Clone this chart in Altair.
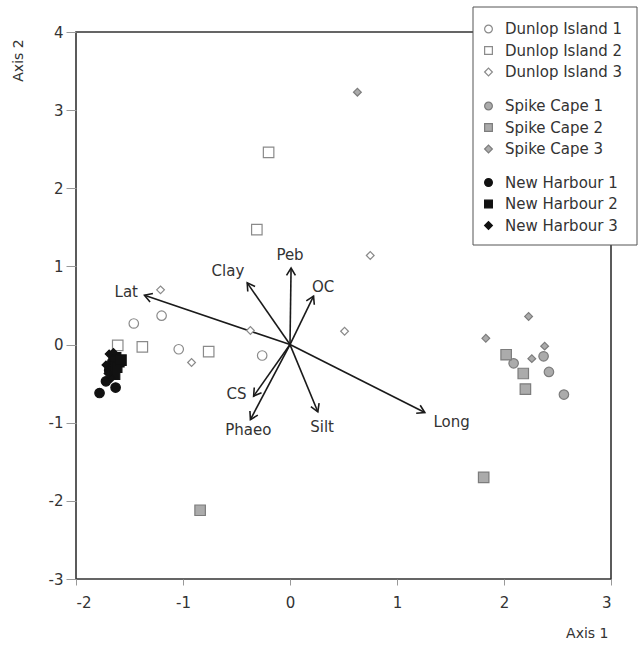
import math
import altair as alt
import pandas as pd

# ---- sample scores (Axis 1, Axis 2) ----
di1_x = [-1.46, -1.20, -1.04, -0.26]
di1_y = [0.27, 0.37, -0.06, -0.14]
di2_x = [-0.20, -0.31, -1.61, -1.38, -0.76]
di2_y = [2.46, 1.47, -0.01, -0.03, -0.09]
di3_x = [-1.21, -0.37, -0.92, 0.51, 0.75]
di3_y = [0.70, 0.18, -0.23, 0.17, 1.14]

sc1_x = [2.09, 2.37, 2.42, 2.56]
sc1_y = [-0.24, -0.15, -0.35, -0.64]
sc2_x = [2.02, 2.18, 2.20, 1.81, -0.84]
sc2_y = [-0.13, -0.37, -0.57, -1.70, -2.12]
sc3_x = [2.23, 1.83, 2.38, 2.26, 0.63]
sc3_y = [0.36, 0.08, -0.02, -0.18, 3.23]

nh1_x = [-1.78, -1.63, -1.72, -1.69, -1.66]
nh1_y = [-0.62, -0.55, -0.47, -0.33, -0.22]
nh2_x = [-1.60, -1.63, -1.64, -1.62, -1.58]
nh2_y = [-0.22, -0.17, -0.38, -0.29, -0.20]
nh3_x = [-1.69, -1.72, -1.67, -1.65, -1.70]
nh3_y = [-0.12, -0.26, -0.43, -0.10, -0.37]

# ---- environmental vectors ----
vec_names = ["Lat", "Clay", "Peb", "OC", "CS", "Phaeo", "Silt", "Long"]
vec_x = [-1.36, -0.40, 0.01, 0.22, -0.34, -0.37, 0.26, 1.26]
vec_y = [0.63, 0.79, 0.98, 0.62, -0.66, -0.96, -0.86, -0.87]
lab_x = [-1.53, -0.58, 0.00, 0.31, -0.50, -0.39, 0.30, 1.51]
lab_y = [0.67, 0.94, 1.14, 0.74, -0.63, -1.09, -1.05, -0.99]

x_ticks = [-2, -1, 0, 1, 2, 3]
y_ticks = [-3, -2, -1, 0, 1, 2, 3, 4]

# ---- styles ----
W, H = 535, 547
FONT = "DejaVu Sans"
FS = 15
TXT = "#333333"
HYPHEN = "datum.value < 0 ? '-' + abs(datum.value) : '' + datum.value"
SHAPES = ["circle", "square", "diamond"]
SIZES = [90, 110, 60]

xs = alt.Scale(domain=[-2, 3], nice=False, zero=False)
ys = alt.Scale(domain=[-3, 4], nice=False, zero=False)

x_axis = alt.Axis(values=x_ticks, tickSize=6, tickColor="#999", labelFontSize=FS,
                  labelColor=TXT, labelPadding=10, domain=False, grid=False,
                  labelExpr=HYPHEN, labelFont=FONT,
                  title="Axis 1", titleAnchor="end", titleAlign="right",
                  titleX=532, titleY=54, titleBaseline="middle", titleFont=FONT,
                  titleFontSize=14, titleFontWeight="normal", titleColor=TXT)
y_axis = alt.Axis(values=y_ticks, tickSize=10, tickColor="#999", labelFontSize=FS,
                  labelColor=TXT, labelPadding=3, domain=False, grid=False,
                  labelExpr=HYPHEN, labelFont=FONT,
                  title="Axis 2", titleAngle=270, titleX=-58, titleY=28,
                  titleAlign="center", titleBaseline="middle", titleFont=FONT,
                  titleFontSize=14, titleFontWeight="normal", titleColor=TXT)


def group_df(names, xss, yss):
    rows = []
    for n, xv, yv, sz in zip(names, xss, yss, SIZES):
        for a, b in zip(xv, yv):
            rows.append({"sample": n, "x": a, "y": b, "sz": sz})
    return pd.DataFrame(rows)


def group_chart(names, xss, yss, fill, stroke, ly):
    df = group_df(names, xss, yss)
    leg = alt.Legend(orient="none", legendX=405, legendY=ly, title=None,
                     labelFontSize=FS, labelColor=TXT, labelFont=FONT,
                     rowPadding=5.5, symbolSize=60, labelOffset=9,
                     padding=0, zindex=5, symbolStrokeWidth=1.2)
    return alt.Chart(df).mark_point(filled=True, strokeWidth=1.2, opacity=1).encode(
        x=alt.X("x:Q", scale=xs, axis=x_axis),
        y=alt.Y("y:Q", scale=ys, axis=y_axis),
        shape=alt.Shape("sample:N", scale=alt.Scale(domain=names, range=SHAPES), legend=leg),
        fill=alt.Fill("sample:N", scale=alt.Scale(domain=names, range=[fill] * 3), legend=leg),
        stroke=alt.Stroke("sample:N", scale=alt.Scale(domain=names, range=[stroke] * 3),
                          legend=leg),
        size=alt.Size("sz:Q", scale=None),
    )


di = group_chart(["Dunlop Island 1", "Dunlop Island 2", "Dunlop Island 3"],
                 [di1_x, di2_x, di3_x], [di1_y, di2_y, di3_y], "white", "#8a8a8a", -10.5)
sc = group_chart(["Spike Cape 1", "Spike Cape 2", "Spike Cape 3"],
                 [sc1_x, sc2_x, sc3_x], [sc1_y, sc2_y, sc3_y], "#ababab", "#7c7c7c", 66.5)
nh = group_chart(["New Harbour 1", "New Harbour 2", "New Harbour 3"],
                 [nh1_x, nh2_x, nh3_x], [nh1_y, nh2_y, nh3_y], "#111111", "#111111", 143)

# vectors
sx, sy = W / 5.0, H / 7.0
vdf = pd.DataFrame({"name": vec_names, "vx": vec_x, "vy": vec_y, "lx": lab_x, "ly": lab_y})
vdf["ox"] = 0.0
vdf["oy"] = 0.0
vdf["ang"] = [math.degrees(math.atan2(a * sx, b * sy)) % 360 for a, b in zip(vec_x, vec_y)]

shafts = alt.Chart(vdf).mark_rule(color="#1a1a1a", strokeWidth=1.6).encode(
    x=alt.X("ox:Q", scale=xs, axis=x_axis), y=alt.Y("oy:Q", scale=ys, axis=y_axis),
    x2="vx:Q", y2="vy:Q")

heads = alt.Chart(vdf).mark_point(shape="M-0.6,1L0,0L0.6,1", filled=False,
                                  stroke="#1a1a1a", strokeWidth=1.6, size=220,
                                  opacity=1).encode(
    x=alt.X("vx:Q", scale=xs, axis=x_axis), y=alt.Y("vy:Q", scale=ys, axis=y_axis),
    angle=alt.Angle("ang:Q", scale=None))

labels = alt.Chart(vdf).mark_text(fontSize=FS, color=TXT, font=FONT,
                                  align="center", baseline="middle").encode(
    x=alt.X("lx:Q", scale=xs, axis=x_axis), y=alt.Y("ly:Q", scale=ys, axis=y_axis),
    text="name:N")

box = alt.Chart(pd.DataFrame({"k": [0]})).mark_rect(
    fill="white", stroke="#555", strokeWidth=1).encode(
    x=alt.value(397), x2=alt.value(561), y=alt.value(-25), y2=alt.value(213))

chart = alt.layer(box, shafts, heads, labels, di, sc, nh).resolve_scale(
    shape="independent", fill="independent", stroke="independent"
).resolve_legend(
    shape="independent", fill="independent", stroke="independent"
).properties(
    width=W, height=H,
    autosize=alt.AutoSizeParams(type="none"),
    padding={"left": 76, "top": 32, "right": 27, "bottom": 67},
).configure(font=FONT).configure_view(stroke="#333", strokeWidth=1.6)

chart.save("out.html", embed_options={"renderer": "svg", "actions": False})
